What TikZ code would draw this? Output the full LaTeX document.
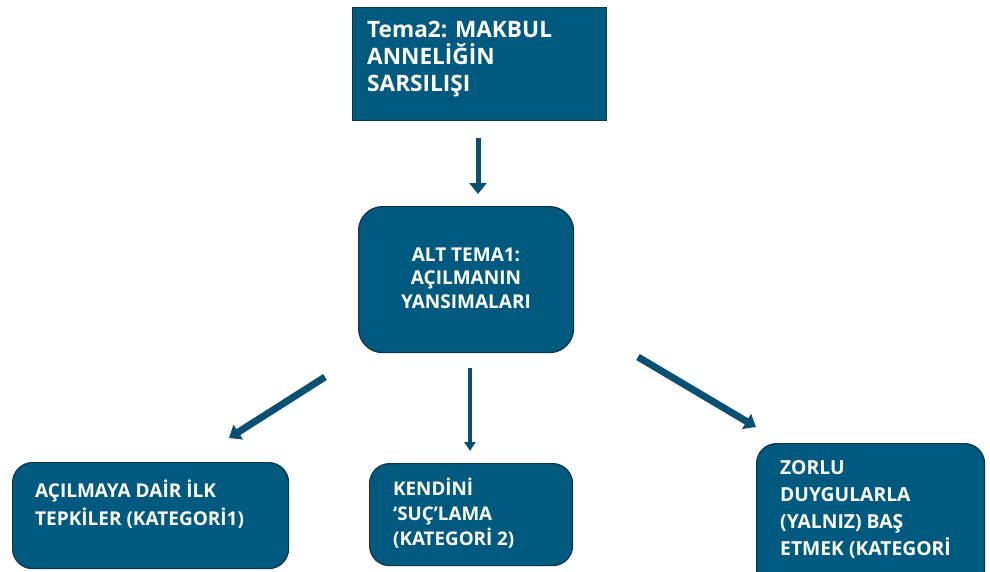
\documentclass[tikz,border=0pt]{standalone}
\usepackage{fontspec}
\setmainfont{Open Sans}
\usetikzlibrary{arrows.meta}
\definecolor{boxfill}{RGB}{0,90,128}
\definecolor{boxline}{RGB}{14,52,74}
\definecolor{arrowc}{RGB}{10,80,115}
\newcommand{\firstln}{\rule{0pt}{20pt}}
\tikzset{
  box/.style={draw=boxline, line width=1.2pt, fill=boxfill, inner sep=0pt},
  lbl/.style={text=white, font=\bfseries, inner sep=0pt, align=left},
  blockarrow/.style={draw=arrowc, line width=#1, -{Triangle[width=17pt,length=11pt]}},
}
\begin{document}
\begin{tikzpicture}[x=1pt,y=-1pt]
\useasboundingbox[fill=white] (0,0) rectangle (990,571);
\clip (0,0) rectangle (990,571);
% boxes
\node[box, rectangle, minimum width=254pt, minimum height=113pt, anchor=north west] (top) at (352,7) {};
\node[box, rounded corners=24pt, minimum width=215pt, minimum height=146pt, anchor=north west] (mid) at (358,206) {};
\node[box, rounded corners=20pt, minimum width=276pt, minimum height=106pt, anchor=north west] (bl) at (12,462) {};
\node[box, rounded corners=20pt, minimum width=203pt, minimum height=102pt, anchor=north west] (bm) at (369,463) {};
\node[box, rounded corners=20pt, minimum width=228pt, minimum height=150pt, anchor=north west] (br) at (756,443) {};
% labels
\node[lbl, font=\fontsize{22.6}{27}\selectfont\bfseries, anchor=north west] (toptext) at (367,17)
  {\firstln Tema2: MAKBUL\\ANNELİĞİN\\SARSILIŞI};
\node[lbl, font=\fontsize{19}{23.5}\selectfont\bfseries, align=center, anchor=north] (midtext) at (466,241)
  {\firstln ALT TEMA1:\\AÇILMANIN\\YANSIMALARI};
\node[lbl, font=\fontsize{19}{28}\selectfont\bfseries, anchor=north west] (bltext) at (35,477)
  {\firstln AÇILMAYA DAİR İLK\\TEPKİLER (KATEGORİ1)};
\node[lbl, font=\fontsize{18.8}{25}\selectfont\bfseries, anchor=north west] (bmtext) at (393,475)
  {\firstln KENDİNİ\\‘SUÇ’LAMA\\(KATEGORİ 2)};
\node[lbl, font=\fontsize{19.3}{27}\selectfont\bfseries, anchor=north west] (brtext) at (780,454)
  {\firstln ZORLU\\DUYGULARLA\\(YALNIZ) BAŞ\\ETMEK (KATEGORİ};
% arrow endpoints
\coordinate (a1s) at (478,138); \coordinate (a1e) at (478,194);
\coordinate (a2s) at (325,377); \coordinate (a2e) at (229,438);
\coordinate (a3s) at (470,368); \coordinate (a3e) at (470,451);
\coordinate (a4s) at (638,357); \coordinate (a4e) at (756,427);
\draw[blockarrow=5pt] (a1s) -- (a1e);
\draw[blockarrow=7pt] (a2s) -- (a2e);
\draw[blockarrow=4pt, -{Triangle[width=11pt,length=9pt]}] (a3s) -- (a3e);
\draw[blockarrow=7pt] (a4s) -- (a4e);
\end{tikzpicture}
\end{document}
